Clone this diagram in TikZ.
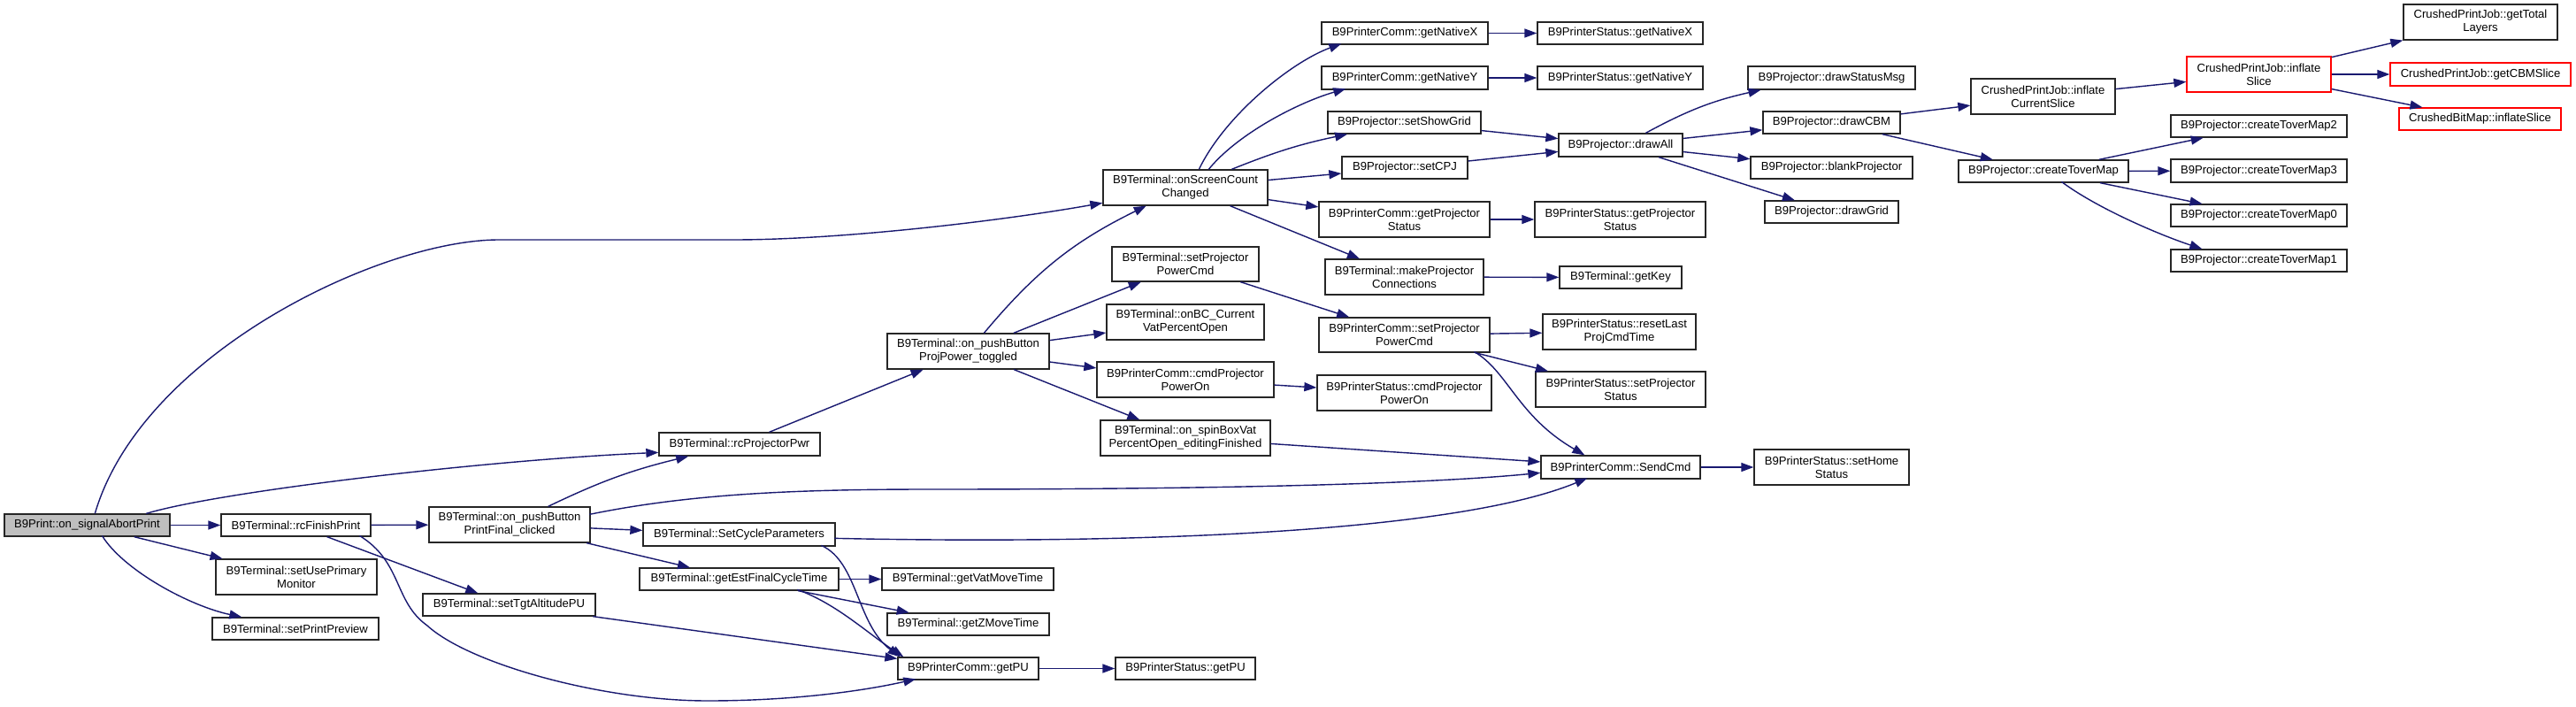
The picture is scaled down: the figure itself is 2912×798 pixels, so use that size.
\documentclass[tikz,border=0pt]{standalone}
\usepackage{fontspec}
\setmainfont{Liberation Sans}
\usetikzlibrary{arrows.meta,calc}
\definecolor{edgec}{HTML}{191970}
\definecolor{grayfill}{HTML}{BFBFBF}
\tikzset{
 box/.style={draw=black!85, line width=1.3pt, fill=white, inner sep=0pt, align=center, font=\fontsize{13.1}{15}\selectfont},
 redbox/.style={box, draw=red},
 rootbox/.style={box, fill=grayfill},
 edge/.style={draw=edgec, line width=1.4pt, -{Triangle[length=14pt,width=10pt]}},
}
\begin{document}
\begin{tikzpicture}[x=1pt,y=-1pt]
\fill[white] (0,0) rectangle (2912,798);
\useasboundingbox (0,0) rectangle (2912,798);
% nodes
\node[rootbox, minimum width=187pt, minimum height=25pt] (n0) at (98.5,593.5) {B9Print::on\_signalAbortPrint};
\node[box, minimum width=169pt, minimum height=25pt] (n1) at (334.5,593.5) {B9Terminal::rcFinishPrint};
\node[box, minimum width=182pt, minimum height=40pt] (n2) at (335,652) {B9Terminal::setUsePrimary\\Monitor};
\node[box, minimum width=188pt, minimum height=25pt] (n3) at (334,710.5) {B9Terminal::setPrintPreview};
\node[box, minimum width=182pt, minimum height=40pt] (n4) at (576,593) {B9Terminal::on\_pushButton\\PrintFinal\_clicked};
\node[box, minimum width=195pt, minimum height=25pt] (n5) at (575.5,683.5) {B9Terminal::setTgtAltitudePU};
\node[box, minimum width=182pt, minimum height=26pt] (n6) at (836,502) {B9Terminal::rcProjectorPwr};
\node[box, minimum width=217pt, minimum height=26pt] (n7) at (835.5,604) {B9Terminal::SetCycleParameters};
\node[box, minimum width=225pt, minimum height=25pt] (n8) at (835.5,654.5) {B9Terminal::getEstFinalCycleTime};
\node[box, minimum width=183pt, minimum height=40pt] (n9) at (1094.5,397) {B9Terminal::on\_pushButton\\ProjPower\_toggled};
\node[box, minimum width=194pt, minimum height=25pt] (n10) at (1094,654.5) {B9Terminal::getVatMoveTime};
\node[box, minimum width=183pt, minimum height=25pt] (n11) at (1094.5,705.5) {B9Terminal::getZMoveTime};
\node[box, minimum width=159pt, minimum height=25pt] (n12) at (1094.5,755.5) {B9PrinterComm::getPU};
\node[box, minimum width=186pt, minimum height=40pt] (n13) at (1340,212) {B9Terminal::onScreenCount\\Changed};
\node[box, minimum width=166pt, minimum height=39pt] (n14) at (1340,298.5) {B9Terminal::setProjector\\PowerCmd};
\node[box, minimum width=178pt, minimum height=40pt] (n15) at (1340,364) {B9Terminal::onBC\_Current\\VatPercentOpen};
\node[box, minimum width=200pt, minimum height=40pt] (n16) at (1340,429) {B9PrinterComm::cmdProjector\\PowerOn};
\node[box, minimum width=192pt, minimum height=40pt] (n17) at (1340,495) {B9Terminal::on\_spinBoxVat\\PercentOpen\_editingFinished};
\node[box, minimum width=158pt, minimum height=25pt] (n18) at (1340,755.5) {B9PrinterStatus::getPU};
\node[box, minimum width=188pt, minimum height=25pt] (n19) at (1588,37.5) {B9PrinterComm::getNativeX};
\node[box, minimum width=188pt, minimum height=26pt] (n20) at (1588,88) {B9PrinterComm::getNativeY};
\node[box, minimum width=173pt, minimum height=25pt] (n21) at (1587.5,138.5) {B9Projector::setShowGrid};
\node[box, minimum width=142pt, minimum height=25pt] (n22) at (1588,189.5) {B9Projector::setCPJ};
\node[box, minimum width=193pt, minimum height=40pt] (n23) at (1587.5,248) {B9PrinterComm::getProjector\\Status};
\node[box, minimum width=179pt, minimum height=40pt] (n24) at (1587.5,313) {B9Terminal::makeProjector\\Connections};
\node[box, minimum width=193pt, minimum height=39pt] (n25) at (1587.5,378.5) {B9PrinterComm::setProjector\\PowerCmd};
\node[box, minimum width=197pt, minimum height=40pt] (n26) at (1587.5,444) {B9PrinterStatus::cmdProjector\\PowerOn};
\node[box, minimum width=187pt, minimum height=25pt] (n27) at (1831.5,37.5) {B9PrinterStatus::getNativeX};
\node[box, minimum width=187pt, minimum height=26pt] (n28) at (1831.5,88) {B9PrinterStatus::getNativeY};
\node[box, minimum width=140pt, minimum height=26pt] (n29) at (1832,164) {B9Projector::drawAll};
\node[box, minimum width=193pt, minimum height=40pt] (n30) at (1831.5,248) {B9PrinterStatus::getProjector\\Status};
\node[box, minimum width=138pt, minimum height=25pt] (n31) at (1832,313.5) {B9Terminal::getKey};
\node[box, minimum width=173pt, minimum height=40pt] (n32) at (1830.5,375) {B9PrinterStatus::resetLast\\ProjCmdTime};
\node[box, minimum width=192pt, minimum height=40pt] (n33) at (1832,440) {B9PrinterStatus::setProjector\\Status};
\node[box, minimum width=180pt, minimum height=26pt] (n34) at (1832,528) {B9PrinterComm::SendCmd};
\node[box, minimum width=175pt, minimum height=40pt] (n35) at (2070.5,528) {B9PrinterStatus::setHome\\Status};
\node[box, minimum width=189pt, minimum height=26pt] (n36) at (2070.5,88) {B9Projector::drawStatusMsg};
\node[box, minimum width=155pt, minimum height=25pt] (n37) at (2070.5,138.5) {B9Projector::drawCBM};
\node[box, minimum width=183pt, minimum height=25pt] (n38) at (2070.5,189.5) {B9Projector::blankProjector};
\node[box, minimum width=151pt, minimum height=25pt] (n39) at (2070.5,239.5) {B9Projector::drawGrid};
\node[box, minimum width=163pt, minimum height=40pt] (n40) at (2309.5,109) {CrushedPrintJob::inflate\\CurrentSlice};
\node[box, minimum width=192pt, minimum height=25pt] (n41) at (2310,193.5) {B9Projector::createToverMap};
\node[redbox, minimum width=163pt, minimum height=40pt] (n42) at (2553.5,84) {CrushedPrintJob::inflate\\Slice};
\node[box, minimum width=199pt, minimum height=25pt] (n43) at (2553.5,142.5) {B9Projector::createToverMap2};
\node[box, minimum width=199pt, minimum height=26pt] (n44) at (2553.5,193) {B9Projector::createToverMap3};
\node[box, minimum width=199pt, minimum height=25pt] (n45) at (2553.5,243.5) {B9Projector::createToverMap0};
\node[box, minimum width=199pt, minimum height=25pt] (n46) at (2553.5,294.5) {B9Projector::createToverMap1};
\node[box, minimum width=174pt, minimum height=40pt] (n47) at (2804,25) {CrushedPrintJob::getTotal\\Layers};
\node[redbox, minimum width=204pt, minimum height=26pt] (n48) at (2804,84) {CrushedPrintJob::getCBMSlice};
\node[redbox, minimum width=183pt, minimum height=25pt] (n49) at (2803.5,134.5) {CrushedBitMap::inflateSlice};
% edges
\draw[edge] (n0) -- (n1);
\draw[edge] (n0) -- (n2);
\draw[edge] ($(n0.north west)+(111,25)$) .. controls (140,645) and (215,685) .. ($(n3.north west)+(34,0)$);
\draw[edge] ($(n0.north west)+(161,0)$) .. controls (250,555) and (550,520) .. ($(n6.north west)+(0,23)$);
\draw[edge] ($(n0.north west)+(103,0)$) .. controls (160,400) and (430,271) .. (564,271) -- (829,271) .. controls (950,271) and (1130,250) .. ($(n13.north west)+(0,38)$);
\draw[edge] (n1) -- (n4);
\draw[edge] (n1) -- (n5);
\draw[edge] ($(n1.north west)+(157,25)$) .. controls (455,635) and (445,680) .. (483,707) .. controls (530,750) and (680,792) .. (800,792) .. controls (900,792) and (980,780) .. ($(n12.north west)+(21,25)$);
\draw[edge] (n4) to[bend left=6] (n6);
\draw[edge] (n4) -- (n7);
\draw[edge] (n4) -- (n8);
\draw[edge] ($(n4.north west)+(182,9)$) .. controls (780,558) and (900,553) .. (1050,553) .. controls (1350,553) and (1600,548) .. ($(n34.north west)+(0,20)$);
\draw[edge] (n6) -- (n9);
\draw[edge] ($(n7.north west)+(217,18)$) .. controls (1300,616) and (1650,600) .. ($(n34.north west)+(53,26)$);
\draw[edge] ($(n7.north west)+(202,26)$) .. controls (970,635) and (968,705) .. ($(n12.north west)+(3,0)$);
\draw[edge] (n8) -- (n10);
\draw[edge] (n8) -- (n11);
\draw[edge] ($(n8.north west)+(179,25)$) .. controls (945,682) and (980,715) .. ($(n12.north west)+(7,0)$);
\draw[edge] (n5) -- (n12);
\draw[edge] (n12) -- (n18);
\draw[edge] (n9) to[bend left=12] (n13);
\draw[edge] (n9) -- (n14);
\draw[edge] (n9) -- (n15);
\draw[edge] (n9) -- (n16);
\draw[edge] (n9) -- (n17);
\draw[edge] (n14) -- (n25);
\draw[edge] (n16) -- (n26);
\draw[edge] (n17) -- (n34);
\draw[edge] (n25) -- (n32);
\draw[edge] (n25) -- (n33);
\draw[edge] ($(n25.north west)+(176,39)$) .. controls (1705,420) and (1715,470) .. ($(n34.north west)+(50,0)$);
\draw[edge] (n34) -- (n35);
\draw[edge] ($(n13.north west)+(109,0)$) .. controls (1385,130) and (1460,70) .. ($(n19.north west)+(23,25)$);
\draw[edge] ($(n13.north west)+(120,0)$) .. controls (1400,150) and (1470,115) .. ($(n20.north west)+(28,26)$);
\draw[edge] (n13) to[bend left=5] (n21);
\draw[edge] (n13) -- (n22);
\draw[edge] (n13) -- (n23);
\draw[edge] (n13) -- (n24);
\draw[edge] (n19) -- (n27);
\draw[edge] (n20) -- (n28);
\draw[edge] (n21) -- (n29);
\draw[edge] (n22) -- (n29);
\draw[edge] (n23) -- (n30);
\draw[edge] (n24) -- (n31);
\draw[edge] (n29) to[bend left=8] (n36);
\draw[edge] (n29) -- (n37);
\draw[edge] (n29) -- (n38);
\draw[edge] (n29) -- (n39);
\draw[edge] (n37) -- (n40);
\draw[edge] (n37) -- (n41);
\draw[edge] (n40) -- (n42);
\draw[edge] (n42) -- (n47);
\draw[edge] (n42) -- (n48);
\draw[edge] (n42) -- (n49);
\draw[edge] (n41) -- (n43);
\draw[edge] (n41) -- (n44);
\draw[edge] (n41) -- (n45);
\draw[edge] ($(n41.north west)+(117,25)$) .. controls (2370,235) and (2440,265) .. ($(n46.north west)+(36,0)$);
\end{tikzpicture}
\end{document}
